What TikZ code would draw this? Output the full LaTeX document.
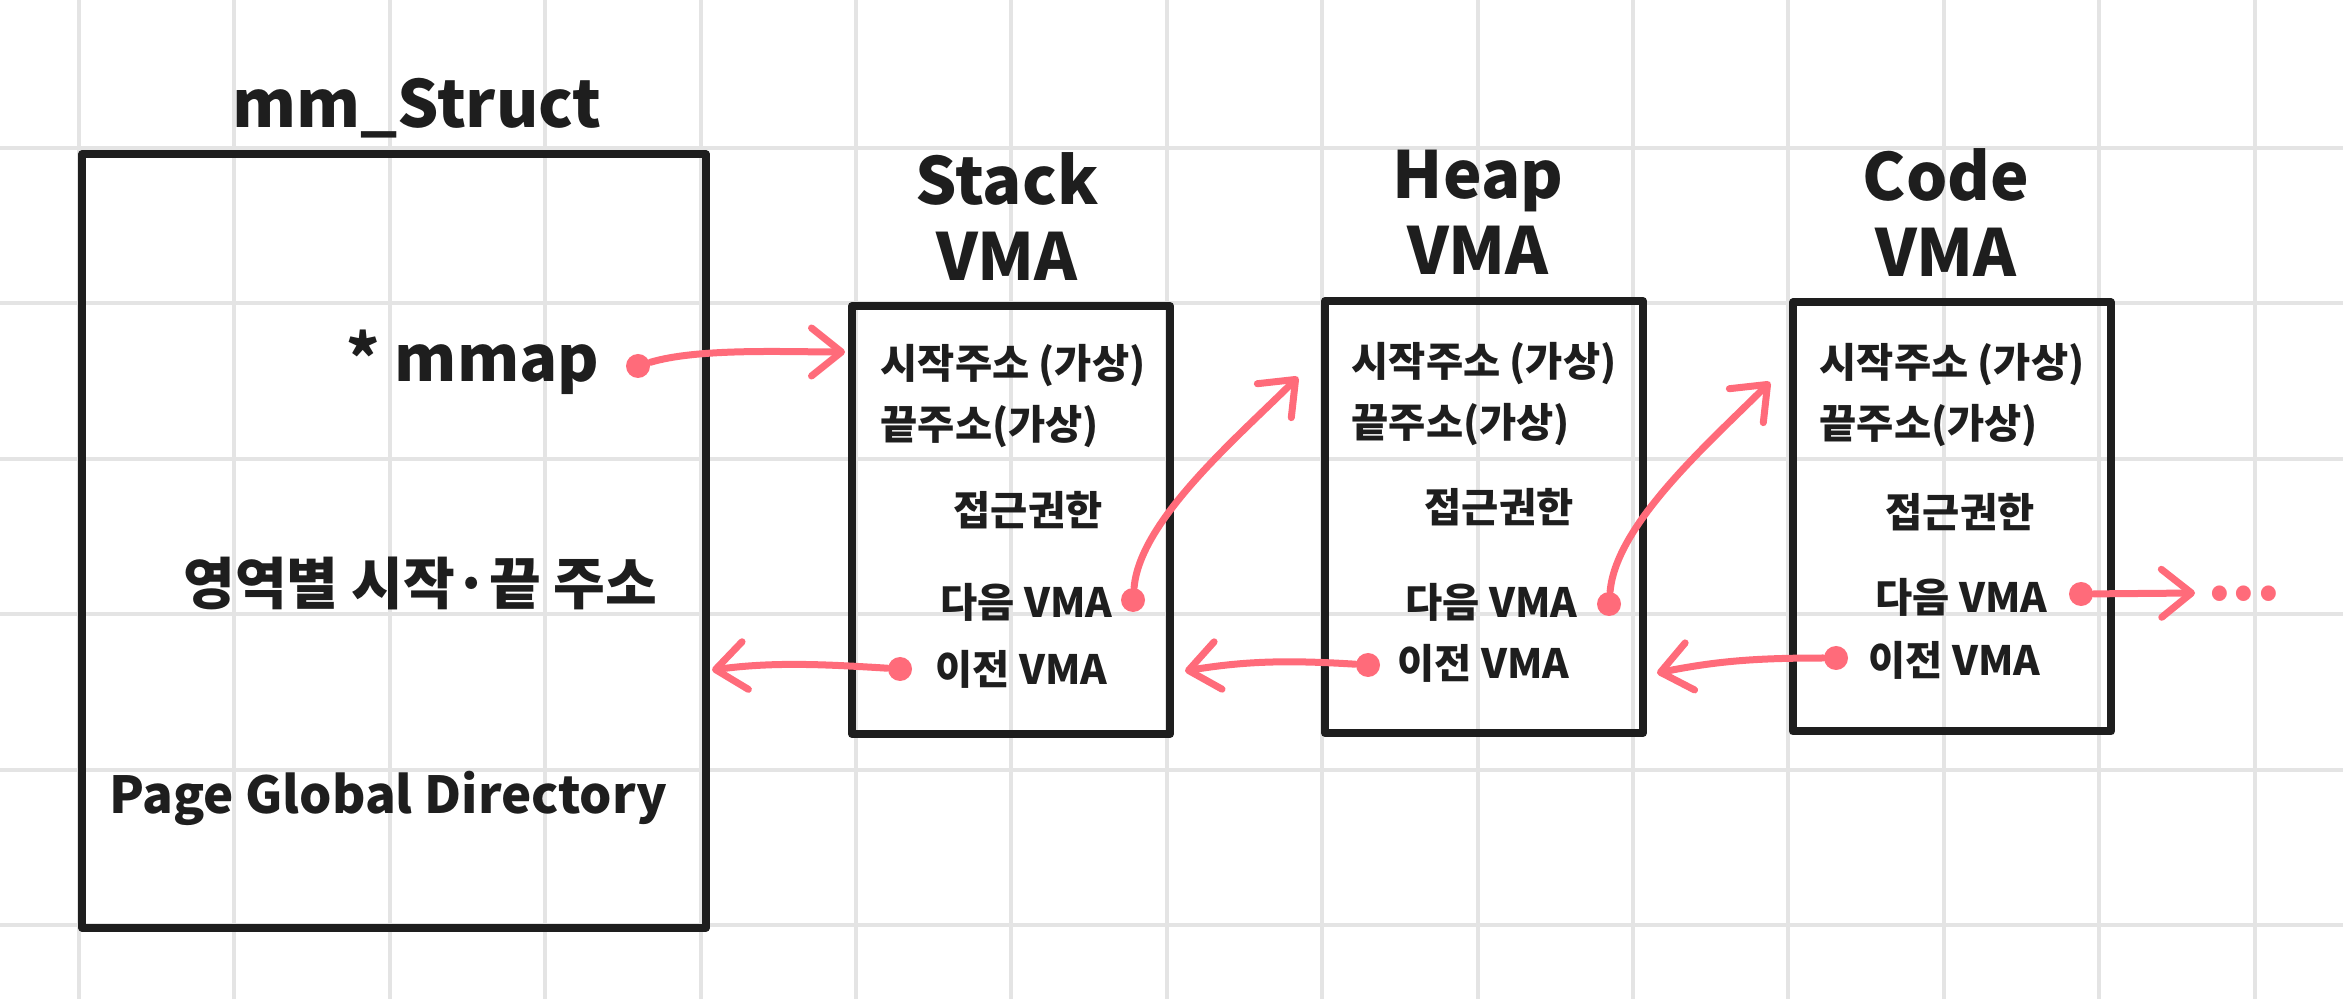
\documentclass[tikz,border=0pt]{standalone}
\usepackage{fontspec}
\setmainfont{Noto Sans CJK KR}
\usetikzlibrary{arrows.meta}
\definecolor{pen}{HTML}{1E1E1E}
\definecolor{marker}{HTML}{FF6B7A}
\definecolor{paper}{HTML}{E4E4E4}

\begin{document}
\begin{tikzpicture}[x=0.1mm,y=-0.1mm,
		box/.style={draw=pen,line width=0.8mm,line join=round,inner sep=0pt},
		title/.style={font=\fontsize{18.5}{21.6}\selectfont\bfseries,text=pen,align=center,inner sep=0pt},
		item/.style={font=\fontsize{11.5}{14}\selectfont\bfseries,text=pen,inner sep=0pt},
		big/.style={font=\fontsize{16}{19}\selectfont\bfseries,text=pen,inner sep=0pt},
		dot/.style={circle,fill=marker,inner sep=0pt,minimum size=2.4mm},
		link/.style={draw=marker,line width=0.7mm,line cap=round,-{Straight Barb[length=3mm,width=4.8mm,round]}}]
		\fill[white] (0,0) rectangle (2343,999);
		\useasboundingbox (0,0) rectangle (2343,999);
		\foreach \gx in {0,...,14} \draw[paper,line width=0.4mm] ({79+155.4*\gx},0) -- ++(0,999);
		\foreach \gy in {0,...,5} \draw[paper,line width=0.4mm] (0,{148+155.4*\gy}) -- ++(2343,0);
		
		\node[box,minimum width=62.4mm,minimum height=77.3mm] (mm) at (394,541) {};
		\node[box,minimum width=31.8mm,minimum height=42.8mm] (stack) at (1011,520) {};
		\node[box,minimum width=31.8mm,minimum height=43.2mm] (heap) at (1484,517) {};
		\node[box,minimum width=31.8mm,minimum height=42.9mm] (code) at (1952,517) {};
		
		\node[title,anchor=base] (mmtitle) at (417,128) {mm\_Struct};
		\node[title,anchor=south] (sttitle) at (1007,281) {Stack\\VMA};
		\node[title,anchor=south] (hptitle) at (1478,275) {Heap\\VMA};
		\node[title,anchor=south] (cdtitle) at (1946,277) {Code\\VMA};
		
		\node[big,font=\fontsize{18}{21}\selectfont\bfseries,anchor=base east] (mmap) at (600,382) {* mmap};
		\node[big,anchor=base east] (range) at (658,605) {영역별 시작·끝 주소};
		\node[big,font=\fontsize{14.5}{17}\selectfont\bfseries,anchor=base] (pgd) at (388,813) {Page Global Directory};
		\node[dot] (mmd) at (638,366) {};
		
		\node[item,anchor=west] (ststart) at (880,366) {시작주소 (가상)};
		\node[item,anchor=west] (stend) at (880,427) {끝주소(가상)};
		\node[item] (stperm) at (1028,510) {접근권한};
		\node[item,anchor=east] (stnext) at (1113,602) {다음 VMA};
		\node[item,anchor=west] (stprev) at (935,669) {이전 VMA};
		\node[dot] (stnd) at (1133,600) {};
		\node[dot] (stpd) at (900,669) {};
		
		\node[item,anchor=west] (hpstart) at (1351,364) {시작주소 (가상)};
		\node[item,anchor=west] (hpend) at (1351,425) {끝주소(가상)};
		\node[item] (hpperm) at (1499,507) {접근권한};
		\node[item,anchor=east] (hpnext) at (1578,602) {다음 VMA};
		\node[item,anchor=west] (hpprev) at (1397,663) {이전 VMA};
		\node[dot] (hpnd) at (1609,604) {};
		\node[dot] (hppd) at (1368,665) {};
		
		\node[item,anchor=west] (cdstart) at (1819,365) {시작주소 (가상)};
		\node[item,anchor=west] (cdend) at (1819,426) {끝주소(가상)};
		\node[item] (cdperm) at (1960,512) {접근권한};
		\node[item,anchor=east] (cdnext) at (2048,597) {다음 VMA};
		\node[item,anchor=west] (cdprev) at (1868,660) {이전 VMA};
		\node[dot] (cdnd) at (2081,594) {};
		\node[dot] (cdpd) at (1836,658) {};
		\node[font=\fontsize{20}{24}\selectfont\bfseries,text=marker,anchor=base,inner sep=0pt] (more) at (2244,601) {...};
		
		\coordinate (stin) at (845,352);
		\coordinate (hpin) at (1298,377);
		\coordinate (cdin) at (1770,382);
		\coordinate (cdout) at (2195,593);
		\coordinate (mmback) at (712,670);
		\coordinate (stback) at (1185,671);
		\coordinate (hpback) at (1657,673);
		
		\draw[link] (mmd) .. controls +(60,-18) and +(-60,0) .. (stin);
		\draw[link] (stnd) .. controls +(7,-80) and +(-60,60) .. (hpin);
		\draw[link] (hpnd) .. controls +(7,-80) and +(-60,60) .. (cdin);
		\draw[link] (cdnd) -- (cdout);
		\draw[link] (stpd) .. controls +(-80,-5) and +(60,-8) .. (mmback);
		\draw[link] (hppd) .. controls +(-80,-5) and +(60,-10) .. (stback);
		\draw[link] (cdpd) .. controls +(-80,0) and +(60,-12) .. (hpback);
	\end{tikzpicture}
\end{document}
